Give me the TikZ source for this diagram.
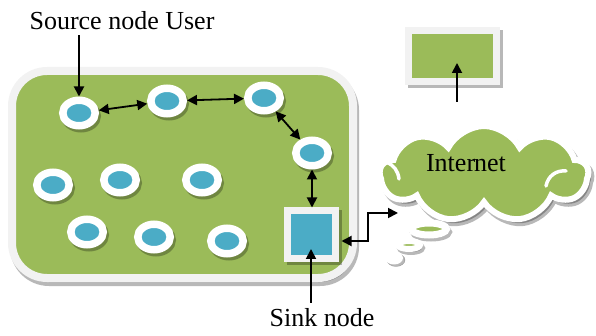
\documentclass[tikz,border=0pt]{standalone}
\usepackage{fontspec}
\setmainfont{Liberation Serif}
\usetikzlibrary{shapes.geometric,shapes.symbols,arrows.meta}
\definecolor{leaf}{HTML}{9BBB59}
\definecolor{sea}{HTML}{4BACC6}
\definecolor{rim}{HTML}{F2F2F2}
\begin{document}
\begin{tikzpicture}[x=1pt,y=-1pt,
  castshadow/.style={preaction={draw=black,fill=black,opacity=0.28,
      transform canvas={shift={(#1)}}}},
  ring/.style={ellipse,fill=sea,draw=white,line width=7.5pt,
      minimum width=32.5pt,minimum height=25.5pt,inner sep=0pt,castshadow={2,3}},
  label/.style={font=\fontsize{26}{30}\selectfont,inner sep=0pt},
  arr/.style={line width=1.8pt,-{Triangle[length=10pt,width=10pt]}},
  dbl/.style={line width=1.8pt,{Triangle[length=10pt,width=10pt]}-{Triangle[length=10pt,width=10pt]}},
  bubble/.style={ellipse,fill=leaf,draw=white,inner sep=0pt,castshadow={2,3}}]
\useasboundingbox (0,0) rectangle (596,336);

% sensor field
\node[rectangle,rounded corners=35pt,fill=leaf,draw=rim,line width=8pt,
      minimum width=341pt,minimum height=207pt,castshadow={2,4}] (field) at (182.5,174.5) {};

% gateway box
\node[rectangle,fill=leaf,draw=rim,line width=7pt,minimum width=88pt,
      minimum height=51pt,castshadow={3,3}] (box) at (452.5,56) {};

% sensor nodes
\node[ring] (n1) at (79,113) {};
\node[ring] (n2) at (167,101) {};
\node[ring] (n3) at (264,98) {};
\node[ring] (n4) at (312,153) {};
\node[ring] (m1) at (53,185) {};
\node[ring] (m2) at (120,180) {};
\node[ring] (m3) at (202,180) {};
\node[ring] (m4) at (87,232) {};
\node[ring] (m5) at (154,237) {};
\node[ring] (m6) at (227,241) {};

% sink
\node[rectangle,fill=sea,draw=rim,line width=7pt,minimum width=48pt,
      minimum height=48pt,castshadow={3,3}] (sink) at (311,235) {};

% internet cloud with thought bubbles
\node[cloud,cloud puffs=9,cloud puff arc=125,cloud ignores aspect,fill=leaf,draw=white,
      line width=6pt,minimum width=208pt,minimum height=96pt,castshadow={3,4}] (cloud) at (484,174) {};
\draw[white,line width=3.5pt,line cap=round] (546,186) .. controls (548,176) and (556,170) .. (566,171);
\draw[white,line width=3.5pt,line cap=round] (386,162) .. controls (394,165) and (398,171) .. (399,179);
\node[label] (inet) at (466,163) {Inter\kern-1pt net};
\node[bubble,line width=7pt,minimum width=35pt,minimum height=12pt] (b1) at (429,229) {};
\node[bubble,line width=6pt,minimum width=22pt,minimum height=8pt] (b2) at (409,245) {};
\node[ellipse,fill=white,inner sep=0pt,minimum width=18pt,minimum height=13pt,
      castshadow={2,2}] (b3) at (394,258) {};

% labels
\node[label] (src) at (122,21) {Source node User};
\node[label] (snk) at (322,318) {Sink node};

% connectors
\coordinate (cloudport) at (398,213);
\coordinate (boxfoot) at (457,102);
\draw[arr,shorten <=5pt] (n1.north |- src.south) -- (n1.north);
\draw[dbl] (n1) -- (n2);
\draw[dbl] (n2) -- (n3);
\draw[dbl] (n3) -- (n4);
\draw[dbl] (n4.south) -- (n4.south |- sink.north);
\draw[dbl] (cloudport) -- ++(-30,0) |- ([yshift=-6pt,xshift=3pt]sink.east);
\draw[arr,shorten <=6pt] (sink.center |- snk.north) -- ([yshift=-14pt]sink.center);
\draw[arr] (boxfoot) -- ([yshift=-7pt]box.center -| boxfoot);
\end{tikzpicture}
\end{document}
